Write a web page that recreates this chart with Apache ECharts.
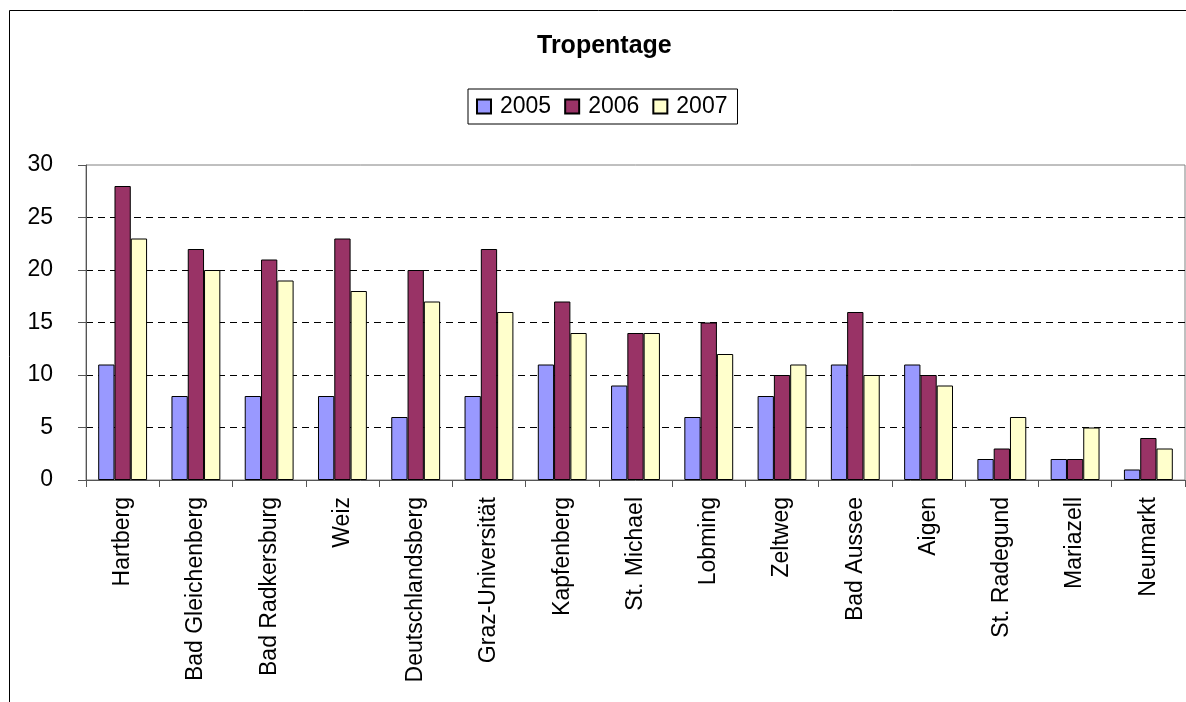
<!DOCTYPE html>
<html><head><meta charset="utf-8">
<script src="https://cdn.jsdelivr.net/npm/echarts@6/dist/echarts.min.js"></script>
<style>html,body{margin:0;padding:0;background:#fff;overflow:hidden}#c{width:1186px;height:702px}</style>
</head><body><div id="c"></div>
<script>
const categories = ["Hartberg","Bad Gleichenberg","Bad Radkersburg","Weiz","Deutschlandsberg","Graz-Universität","Kapfenberg","St. Michael","Lobming","Zeltweg","Bad Aussee","Aigen","St. Radegund","Mariazell","Neumarkt"];
const s2005 = [11,8,8,8,6,8,11,9,6,8,11,11,2,2,1];
const s2006 = [28,22,21,23,20,22,17,14,15,10,16,10,3,2,4];
const s2007 = [23,20,19,18,17,16,14,14,12,11,10,9,6,5,3];
const seriesNames = ["2005","2006","2007"];
const colors = ["#9999FF","#993366","#FFFFCC"];
const font = "Liberation Sans, Arial, sans-serif";
const chart = echarts.init(document.getElementById('c'), null, {renderer:'canvas'});
const data = [s2005, s2006, s2007];
chart.setOption({
  animation:false,
  backgroundColor:'#fff',
  graphic:[{type:'rect', z:-10, shape:{x:9.5,y:10.5,width:1400,height:1000}, style:{fill:'none', stroke:'#000', lineWidth:1}}],
  title:{text:'Tropentage', left:537, top:34, padding:0, textStyle:{fontFamily:font, fontSize:25, fontWeight:'bold', color:'#000'}},
  legend:{left:468, top:89, padding:[6,10,6,8], itemGap:13, itemWidth:14, itemHeight:14, borderColor:'#000', borderWidth:1, icon:'rect',
    textStyle:{fontFamily:font, fontSize:23, color:'#000', padding:[0,0,0,4]}},
  grid:{left:86, right:1, top:165, bottom:222, show:true, borderColor:'#808080', borderWidth:1},
  xAxis:{type:'category', data:categories,
    axisLine:{lineStyle:{color:'#555', width:1}},
    axisTick:{show:true, length:7, lineStyle:{color:'#555'}},
    axisLabel:{rotate:90, margin:17, fontFamily:font, fontSize:23, color:'#000', interval:0}},
  yAxis:{type:'value', min:0, max:30, interval:5,
    axisLine:{show:true, lineStyle:{color:'#555'}},
    axisTick:{show:true, length:8, lineStyle:{color:'#555'}},
    axisLabel:{margin:33, fontFamily:font, fontSize:23, color:'#000'},
    splitLine:{show:true, showMinLine:false, showMaxLine:false, lineStyle:{color:'#000', type:[7,5], width:1}}},
  series: seriesNames.map((n,i)=>({name:n, type:'bar', data:data[i], barGap:'0%', barCategoryGap:'33.3%',
    itemStyle:{color:colors[i], borderColor:'#000', borderWidth:1}}))
});
</script></body></html>
